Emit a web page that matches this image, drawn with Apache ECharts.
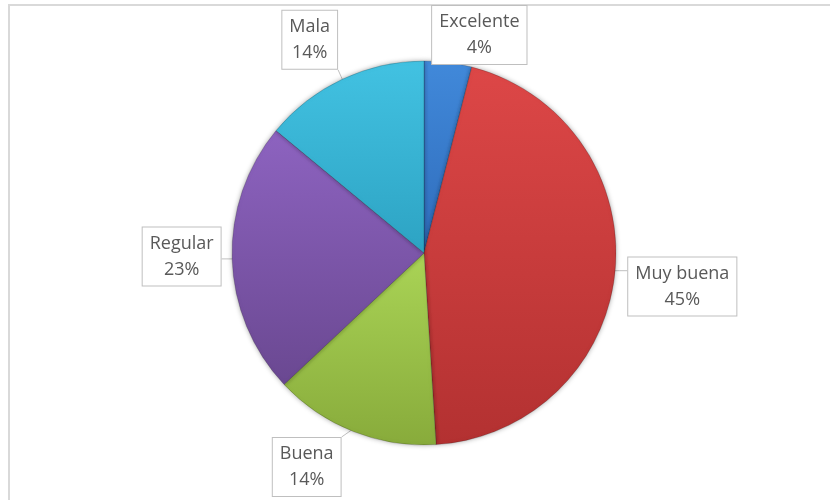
<!DOCTYPE html>
<html>
<head>
<meta charset="utf-8">
<title>Calificación</title>
<script src="https://cdn.jsdelivr.net/npm/echarts@6/dist/echarts.min.js"></script>
<style>
  html, body { margin: 0; padding: 0; background: #ffffff; overflow: hidden; }
  #frame {
    position: absolute; left: 8px; top: 4px; width: 900px; height: 600px;
    border-left: 2px solid #d9d9d9; border-top: 2px solid #d9d9d9;
  }
  #chart { position: absolute; left: 0; top: 0; width: 830px; height: 500px; }
</style>
</head>
<body>
<div id="frame"></div>
<div id="chart"></div>
<script>
// Rating categories and their share (%)
const categories = ['Excelente', 'Muy buena', 'Buena', 'Regular', 'Mala'];
const percentValues = [4, 45, 14, 23, 14];

// Slice fills: lighter top, darker bottom
const sliceColors = [
  ['#4189da', '#2f6cbb'],
  ['#dd4747', '#b33131'],
  ['#aad456', '#88ab3b'],
  ['#8d63c0', '#6a4891'],
  ['#42c2e2', '#2da3c3']
];

// Pie geometry (pixels)
const PIE_CX = 424, PIE_CY = 253, PIE_R = 192;
// Callout boxes: distance from the rim, slight turn away from the vertical axis
const CALLOUT_GAP = 10;
const calloutTurn = [6, 2, 7, 1, -3];
const BOUNDS = { left: 12, top: 5, right: 826, bottom: 497 };

const total = percentValues.reduce((a, b) => a + b, 0);
const startShare = [];
percentValues.reduce((acc, v) => { startShare.push(acc); return acc + v; }, 0);

const chart = echarts.init(document.getElementById('chart'), null, { renderer: 'canvas' });

const seriesData = categories.map((name, i) => ({
  name: name,
  value: percentValues[i],
  itemStyle: {
    color: {
      type: 'linear', x: 0, y: 0, x2: 0, y2: 1,
      colorStops: [
        { offset: 0, color: sliceColors[i][0] },
        { offset: 1, color: sliceColors[i][1] }
      ]
    }
  }
}));

function labelLayout(params) {
  const i = params.dataIndex;
  const midDeg = (startShare[i] + percentValues[i] / 2) / total * 360;
  const boxDeg = midDeg + calloutTurn[i];
  const b = boxDeg * Math.PI / 180;
  const ux = Math.sin(b), uy = -Math.cos(b);
  const w = params.labelRect.width, h = params.labelRect.height;
  const ext = Math.abs(ux) * w / 2 + Math.abs(uy) * h / 2;
  const d = PIE_R + CALLOUT_GAP + ext;
  let cx = PIE_CX + d * ux, cy = PIE_CY + d * uy;
  // keep the box inside the chart area
  cx = Math.min(Math.max(cx, BOUNDS.left + w / 2), BOUNDS.right - w / 2);
  cy = Math.min(Math.max(cy, BOUNDS.top + h / 2), BOUNDS.bottom - h / 2);

  // pointer from the slice rim to the nearest point of the box
  const m = midDeg * Math.PI / 180;
  const sx = PIE_CX + (PIE_R - 4) * Math.sin(m);
  const sy = PIE_CY - (PIE_R - 4) * Math.cos(m);
  const ex = Math.min(Math.max(sx, cx - w / 2), cx + w / 2);
  const ey = Math.min(Math.max(sy, cy - h / 2), cy + h / 2);
  return {
    x: cx, y: cy, align: 'center', verticalAlign: 'middle',
    labelLinePoints: [[sx, sy], [(sx + ex) / 2, (sy + ey) / 2], [ex, ey]]
  };
}

chart.setOption({
  animation: false,
  backgroundColor: 'transparent',
  series: [{
    type: 'pie',
    center: [PIE_CX, PIE_CY],
    radius: PIE_R,
    startAngle: 90,
    clockwise: true,
    avoidLabelOverlap: false,
    data: seriesData,
    itemStyle: {
      borderColor: 'rgba(0,0,0,0.18)',
      borderWidth: 1,
      shadowBlur: 5,
      shadowColor: 'rgba(0,0,0,0.35)'
    },
    label: {
      show: true,
      position: 'outside',
      formatter: p => p.name + '\n' + Math.round(p.percent) + '%',
      fontFamily: 'Open Sans',
      fontSize: 18,
      lineHeight: 26,
      color: '#595959',
      backgroundColor: '#ffffff',
      borderColor: '#bfbfbf',
      borderWidth: 1,
      padding: [3, 7, 3, 7],
      align: 'center'
    },
    labelLine: {
      show: true,
      length: 8,
      length2: 4,
      lineStyle: { color: '#bfbfbf', width: 1 }
    },
    labelLayout: labelLayout,
    emphasis: { disabled: true }
  }]
});
</script>
</body>
</html>
